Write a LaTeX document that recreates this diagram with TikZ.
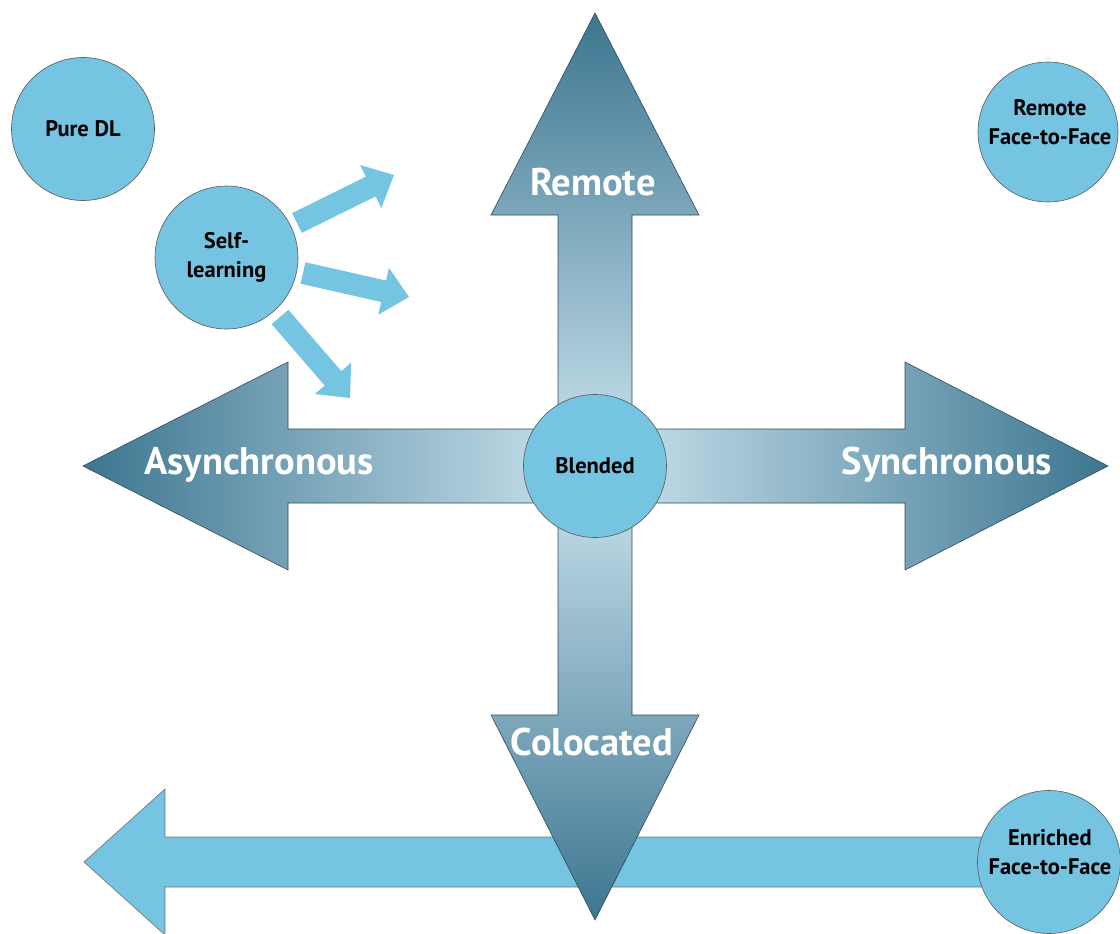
\documentclass[tikz,border=0pt]{standalone}
\usepackage{fontspec}
\setmainfont{PT Sans}
\usetikzlibrary{calc}
\definecolor{cblue}{HTML}{75C4E2}
\definecolor{adark}{HTML}{3D7690}
\definecolor{alight}{HTML}{CCE4EF}
\definecolor{edge}{HTML}{2E4A58}
\pgfdeclarehorizontalshading{hshade}{100bp}{color(0bp)=(adark); color(25bp)=(adark); color(50bp)=(alight); color(75bp)=(adark); color(100bp)=(adark)}
\pgfdeclareverticalshading{vshade}{100bp}{color(0bp)=(adark); color(25bp)=(adark); color(50bp)=(alight); color(75bp)=(adark); color(100bp)=(adark)}
\newcommand\blockarr[3]{%
  \path ($(#3)!26pt!(#2)$) coordinate (#1h);
  \fill[cblue] ($(#2)!11pt!90:(#3)$) -- ($(#1h)!11pt!90:(#3)$) -- ($(#1h)!24pt!90:(#3)$) -- (#3)
    -- ($(#1h)!24pt!-90:(#3)$) -- ($(#1h)!11pt!-90:(#3)$) -- ($(#2)!11pt!-90:(#3)$) -- cycle;}
\tikzset{
  circ/.style={circle, fill=cblue, draw=black!65, line width=0.6pt, minimum size=143pt, inner sep=0pt,
    font=\bfseries\fontsize{22.5}{29}\selectfont, align=center},
  ctext/.style={font=\bfseries\fontsize{22.5}{29}\selectfont, align=center, inner sep=0pt},
  axlab/.style={text=white, font=\bfseries\fontsize{38.5}{42}\selectfont, inner sep=0pt},
  bigarrow/.style={draw=edge, line width=0.6pt}
}
\begin{document}
\begin{tikzpicture}[x=1pt,y=-1pt]
\useasboundingbox (0,0) rectangle (1120,934);
% bottom light arrow
\draw[fill=cblue, draw=black!55, line width=0.6pt] (84,862) -- (165,789) -- (165,837) -- (1000,837) -- (1000,887) -- (165,887) -- (165,935) -- cycle;
% horizontal axis arrow
\shade[shading=hshade, bigarrow] (83,466) -- (288,362) -- (288,429) -- (905,429) -- (905,362) -- (1108,466)
  -- (905,570) -- (905,503) -- (288,503) -- (288,570) -- cycle;
% vertical axis arrow
\shade[shading=vshade, bigarrow] (595,13) -- (699,215) -- (632,215) -- (632,715) -- (699,715) -- (595,920)
  -- (491,715) -- (558,715) -- (558,215) -- (491,215) -- cycle;
% labels on axes
\node[axlab] (async) at (259,465) {Asynchronous};
\node[axlab] (sync) at (947,465) {Synchronous};
\node[axlab] (remote) at (593,182) {Remote};
\node[axlab] (coloc) at (592,742) {Colocated};
% circles
\node[circ] (pure) at (83,129) {Pure DL};
\node[circ] (self) at (226.5,257.5) {Self-\\learning};
\node[circ, minimum size=140pt] (rf2f) at (1048,132) {};
\node[ctext] (rf2ft) at ($(rf2f)+(2,-10)$) {Remote\\Face-to-Face};
\node[circ] (blend) at (595,466) {Blended};
\node[circ] (ef2f) at (1049,862) {};
\node[ctext] (ef2ft) at ($(ef2f)+(1,-10)$) {Enriched\\Face-to-Face};
% small arrows from Self-learning
\coordinate (a1s) at (297,223); \coordinate (a1e) at (394,175);
\coordinate (a2s) at (303,273); \coordinate (a2e) at (409,297);
\coordinate (a3s) at (280,317); \coordinate (a3e) at (350,398);
\blockarr{a1}{a1s}{a1e}
\blockarr{a2}{a2s}{a2e}
\blockarr{a3}{a3s}{a3e}
\end{tikzpicture}
\end{document}
